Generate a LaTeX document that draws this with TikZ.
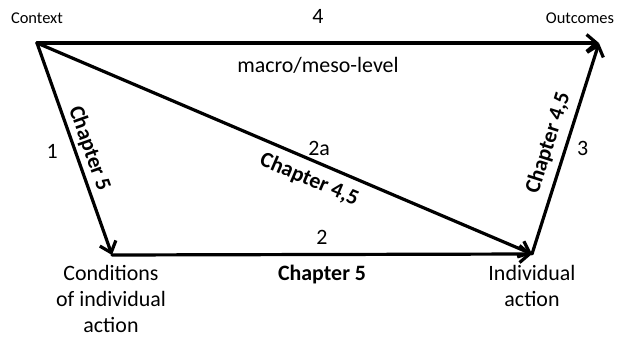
\documentclass[tikz,border=0pt]{standalone}
\usepackage{fontspec}
\setmainfont{Carlito}
\usetikzlibrary{arrows.meta, positioning}

\begin{document}
\begin{tikzpicture}[
    x=1bp, y=1bp,
    arrow/.style={line width=3.2bp, line cap=round, -{Straight Barb[length=10bp, width=17bp]}},
    lbl/.style={font=\fontsize{22}{27}\selectfont, align=center, inner sep=0pt},
    small/.style={font=\fontsize{16.5}{20}\selectfont, inner sep=0pt},
    chap/.style={font=\fontsize{22}{27}\selectfont\bfseries, sloped, inner sep=0pt}
]
\useasboundingbox (0,0) rectangle (618,338);

% Corner points
\coordinate (ctx) at (37,295);
\coordinate (out) at (599,295);
\coordinate (cond) at (112,83);
\coordinate (ind) at (532,84);

% Nodes
\node[small] (ctxlbl) at (37,320) {Context};
\node[small] (outlbl) at (580,320) {Outcomes};
\node[lbl, font=\fontsize{22}{26}\selectfont] (condlbl) at (111,39) {Conditions\\of individual\\action};
\node[lbl] (indlbl) at (532,52) {Individual\\action};

% Connections
\draw[arrow] (ctx) -- node[lbl, above=18bp] (n4) {4}
    node[lbl, below=13bp] (macro) {macro/meso-level} (out);
\draw[arrow] (ctx) -- node[lbl, pos=0.51, left=16bp] (n1) {1}
    node[chap, pos=0.52, above=3bp] (chapl) {Chapter 5} (cond);
\draw[arrow] (ctx) -- node[lbl, pos=0.57, above=6bp] (n2a) {2a}
    node[chap, pos=0.565, below=8bp] (chapd) {Chapter 4,5} (ind);
\draw[arrow] (cond) -- node[lbl, above=8bp] (n2) {2}
    node[chap, below=9bp] (chapb) {Chapter 5} (ind);
\draw[arrow] (ind) -- node[lbl, pos=0.5, right=10bp] (n3) {3}
    node[chap, pos=0.5, above=7bp] (chapr) {Chapter 4,5} (out);

\end{tikzpicture}
\end{document}
